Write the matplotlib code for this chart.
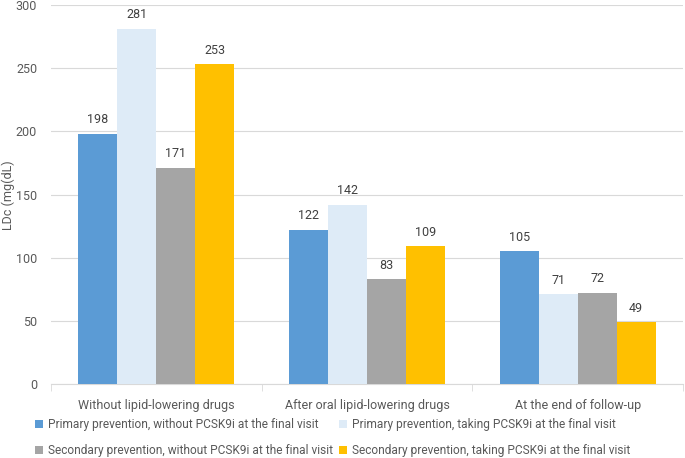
import matplotlib
matplotlib.use("Agg")
import matplotlib.pyplot as plt
import numpy as np

categories = ["Without lipid-lowering drugs", "After oral lipid-lowering drugs", "At the end of follow-up"]
series_names = [
    "Primary prevention, without PCSK9i at the final visit",
    "Primary prevention, taking PCSK9i at the final visit",
    "Secondary prevention, without PCSK9i at the final visit",
    "Secondary prevention, taking PCSK9i at the final visit",
]
primary_without = [198, 122, 105]
primary_taking = [281, 142, 71]
secondary_without = [171, 83, 72]
secondary_taking = [253, 109, 49]

colors = ["#5B9BD5", "#DEEBF7", "#A5A5A5", "#FFC000"]
text_color = "#595959"

plt.rcParams["font.family"] = ["Roboto", "DejaVu Sans"]

fig = plt.figure(figsize=(6.85, 4.58), dpi=100)
ax = fig.add_axes([0.0745, 0.1616, 0.9225, 0.8274])

x = np.arange(len(categories))
width = 0.185
all_series = [primary_without, primary_taking, secondary_without, secondary_taking]
handles = []
for i, (vals, name, c) in enumerate(zip(all_series, series_names, colors)):
    pos = x + (i - 1.5) * width
    bars = ax.bar(pos, vals, width, color=c, label=name, zorder=3)
    handles.append(bars)
    for b, v in zip(bars, vals):
        ax.text(b.get_x() + b.get_width() / 2, v + 6, str(v), ha="center", va="bottom",
                fontsize=9, color="#404040")

ax.set_xlim(-0.5, 2.5)
ax.set_ylim(0, 300)
ax.set_yticks(range(0, 301, 50))
ax.yaxis.grid(True, color="#D9D9D9", linewidth=0.8, zorder=0)
ax.set_xticks(x)
ax.set_xticklabels(categories)
ax.set_xticks([-0.5, 0.5, 1.5, 2.5], minor=True)
ax.tick_params(axis="x", which="major", length=0, pad=11, labelsize=9, labelcolor=text_color)
ax.tick_params(axis="x", which="minor", length=5, color="#D9D9D9")
ax.tick_params(axis="y", length=0, pad=10, labelsize=9, labelcolor=text_color)
for s in ["top", "right", "left"]:
    ax.spines[s].set_visible(False)
ax.spines["bottom"].set_color("#D9D9D9")
fig.text(8 / 685, 1 - 195 / 458, "LDc (mg(dL)", rotation=90, ha="center", va="center",
         fontsize=9, color=text_color)

# legend filled row by row, as in the reference
order = [0, 2, 1, 3]
fig.legend([handles[k] for k in order], [series_names[k] for k in order],
           loc="lower left", bbox_to_anchor=(0.035, -0.022), ncol=2, frameon=False,
           fontsize=8.6, labelcolor=text_color, handlelength=0.7, handleheight=0.7,
           handletextpad=0.4, columnspacing=0.5, labelspacing=1.1)

fig.savefig("out.png", dpi=100)
